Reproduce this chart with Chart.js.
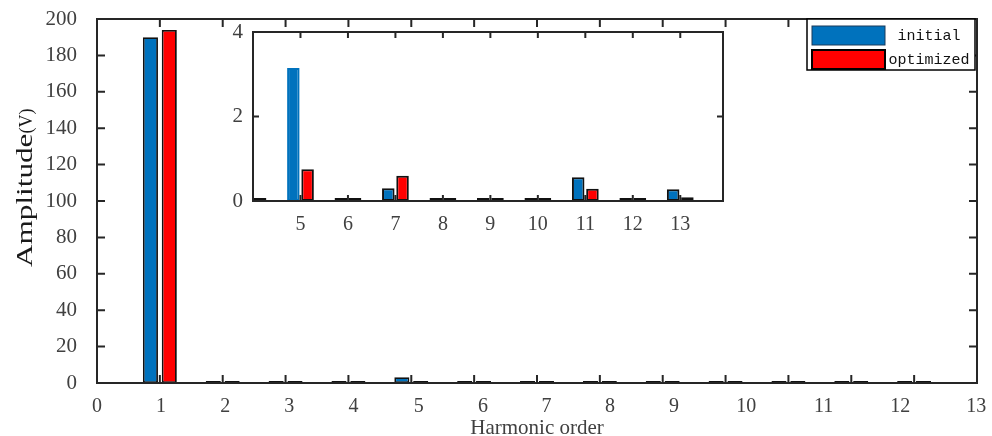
<!DOCTYPE html>
<html>
<head>
<meta charset="utf-8">
<script src="https://cdn.jsdelivr.net/npm/chart.js@4.4.0/dist/chart.umd.min.js"></script>
<style>
html, body { margin: 0; padding: 0; background: #fff; }
#wrap { position: relative; width: 992px; height: 436px; }
#main { position: absolute; left: 0; top: 0; }
#zoom { position: absolute; left: 200px; top: 15px; }
</style>
</head>
<body>
<div id="wrap">
    <canvas id="main" width="992" height="436"></canvas>
    <canvas id="zoom" width="540" height="230"></canvas>
</div>
<script>
// harmonic amplitudes (V)
const harmonics = [1, 2, 3, 4, 5, 6, 7, 8, 9, 10, 11, 12, 13]
const initial = [190, 0.01, 0.01, 0.01, 3.15, 0.03, 0.30, 0.03, 0.04, 0.04, 0.56, 0.07, 0.28]
const optimized = [194, 0.01, 0.01, 0.01, 0.75, 0.03, 0.60, 0.03, 0.04, 0.03, 0.29, 0.05, 0.09]
const seriesNames = ['initial', 'optimized']

const mainYTicks = [0, 20, 40, 60, 80, 100, 120, 140, 160, 180, 200]
const mainXLabels = ['0', '1', '2', '3', '4', '5', '6', '7', '8', '9', '10', '11', '12', '13']
const zoomXTicks = [5, 6, 7, 8, 9, 10, 11, 12, 13]
const zoomYTicks = [0, 2, 4]

// label spots along the 0..14 axis (the labels drift off the tick marks)
const mainXLabelAt = [0, 1.02, 2.04, 3.06, 4.08, 5.12, 6.14, 7.15, 8.16, 9.18, 10.33, 11.56, 12.78, 13.99]

const BLUE = '#0072BD'
const RED = '#FF0000'
const EDGE = '#111111'
const AXIS = '#262626'
const TXT = '#404040'
const serif = 'Liberation Serif'

const points = vals => harmonics.map((h, i) => ({ x: h, y: vals[i] }))

// fixed axis size, and no extra room for labels hanging past the ends
const fixSize = (w, h) => s => {
    if (w) s.width = w
    if (h) s.height = h
    s.paddingTop = s.paddingBottom = s.paddingLeft = s.paddingRight = 0
}

// box round the plot area with inward tick marks on all four sides
const frame = {
    id: 'frame',
    beforeDatasetsDraw(chart, args, opts) {
        const a = chart.chartArea
        chart.ctx.save()
        chart.ctx.fillStyle = '#fff'
        chart.ctx.fillRect(a.left, a.top, a.width, a.height)
        chart.ctx.restore()
    },
    afterDatasetsDraw(chart, args, opts) {
        const { ctx, chartArea: a } = chart
        const x = chart.scales.x, y = chart.scales.y
        ctx.save()
        ctx.strokeStyle = AXIS
        ctx.lineWidth = opts.width
        ctx.beginPath()
        opts.xTicks.forEach(v => {
            const p = x.getPixelForValue(v)
            ctx.moveTo(p, a.bottom); ctx.lineTo(p, a.bottom - opts.len)
            ctx.moveTo(p, a.top); ctx.lineTo(p, a.top + opts.len)
        })
        opts.yTicks.forEach(v => {
            const p = y.getPixelForValue(v)
            ctx.moveTo(a.left, p); ctx.lineTo(a.left + opts.len, p)
            ctx.moveTo(a.right, p); ctx.lineTo(a.right - opts.len, p)
        })
        ctx.stroke()
        ctx.strokeRect(a.left, a.top, a.width, a.height)
        ctx.restore()
    }
}

// boxed legend in the top right corner
const boxLegend = {
    id: 'boxLegend',
    afterDraw(chart) {
        const { ctx, chartArea: a } = chart
        const right = a.right - 2, left = right - 168, top = a.top, h = 51
        ctx.save()
        ctx.fillStyle = '#fff'
        ctx.fillRect(left, top, right - left, h)
        ctx.strokeStyle = '#000'
        ctx.lineWidth = 1.5
        ctx.strokeRect(left, top, right - left, h)
        chart.data.datasets.forEach((ds, i) => {
            const sy = top + 7 + i * 24
            ctx.fillStyle = ds.backgroundColor
            ctx.fillRect(left + 5, sy, 73, 19)
            ctx.strokeStyle = i == 0 ? '#1a3a5a' : '#000'
            ctx.lineWidth = i == 0 ? 1 : 2
            ctx.strokeRect(left + 5, sy, 73, 19)
            ctx.fillStyle = '#111'
            ctx.font = '15px "Liberation Mono"'
            ctx.textAlign = 'center'
            ctx.textBaseline = 'middle'
            ctx.fillText(ds.label, right - 46, sy + 10)
        })
        ctx.restore()
    }
}

// rotated y title, sitting a bit above the middle of the axis; unit in a smaller size
const yTitle = {
    id: 'yTitle',
    afterDraw(chart) {
        const ctx = chart.ctx
        ctx.save()
        ctx.translate(31.5, 267)
        ctx.rotate(-Math.PI / 2)
        ctx.scale(1.3, 1)
        ctx.fillStyle = '#1a1a1a'
        ctx.textAlign = 'left'
        ctx.textBaseline = 'alphabetic'
        ctx.font = '24px "' + serif + '"'
        ctx.fillText('Amplitude', 0, 0)
        const w = ctx.measureText('Amplitude').width
        ctx.scale(1 / 1.3, 1)
        ctx.font = '18px "' + serif + '"'
        ctx.fillText('(V)', w * 1.3, 0)
        ctx.restore()
    }
}

const barSets = (minLen, edgeW, edgeFor) => [
    {
        label: seriesNames[0], data: points(initial),
        backgroundColor: BLUE, borderColor: edgeFor, borderWidth: edgeW,
        borderSkipped: false, minBarLength: minLen
    },
    {
        label: seriesNames[1], data: points(optimized),
        backgroundColor: RED, borderColor: EDGE, borderWidth: edgeW,
        borderSkipped: false, minBarLength: minLen
    }
]

new Chart(document.getElementById('main'), {
    type: 'bar',
    data: { datasets: barSets(2, 1.8, EDGE) },
    plugins: [frame, boxLegend, yTitle],
    options: {
        responsive: false,
        animation: false,
        layout: { padding: { left: 0, right: 15, top: 19, bottom: 0 } },
        datasets: { bar: { categoryPercentage: 0.6, barPercentage: 0.8 } },
        plugins: {
            legend: { display: false },
            tooltip: { enabled: false },
            frame: { xTicks: harmonics, yTicks: mainYTicks, len: 8, width: 2 }
        },
        scales: {
            x: {
                type: 'linear', min: 0, max: 14, offset: false,
                grid: { display: false, drawTicks: false },
                border: { display: false },
                afterBuildTicks: s => { s.ticks = mainXLabelAt.map(v => ({ value: v })) },
                ticks: {
                    callback: (v, i) => mainXLabels[i],
                    autoSkip: false, maxRotation: 0, padding: 12,
                    color: TXT, font: { family: serif, size: 20 }
                },
                title: {
                    display: true, text: 'Harmonic order', color: TXT,
                    font: { family: serif, size: 21 }, padding: { top: 0, bottom: -5 }
                },
                afterFit: fixSize(0, 53)
            },
            y: {
                min: 0, max: 200,
                grid: { display: false, drawTicks: false },
                border: { display: false },
                afterBuildTicks: s => { s.ticks = mainYTicks.map(v => ({ value: v })) },
                ticks: { padding: 20, color: TXT, font: { family: serif, size: 21 } },
                afterFit: fixSize(97, 0)
            }
        }
    }
})

// zoomed view of harmonics 5..13
new Chart(document.getElementById('zoom'), {
    type: 'bar',
    data: { datasets: barSets(3, 2, c => (harmonics[c.dataIndex] === 5 ? BLUE : EDGE)) },
    plugins: [frame],
    options: {
        responsive: false,
        animation: false,
        layout: { padding: { left: 0, right: 17, top: 17, bottom: 0 } },
        datasets: { bar: { categoryPercentage: 0.6, barPercentage: 0.88 } },
        plugins: {
            legend: { display: false },
            tooltip: { enabled: false },
            frame: { xTicks: zoomXTicks, yTicks: zoomYTicks, len: 6, width: 2 }
        },
        scales: {
            x: {
                type: 'linear', min: 4, max: 13.9, offset: false,
                grid: { display: false, drawTicks: false },
                border: { display: false },
                afterBuildTicks: s => { s.ticks = zoomXTicks.map(v => ({ value: v })) },
                ticks: { autoSkip: false, maxRotation: 0, padding: 12, color: TXT, font: { family: serif, size: 20 } },
                afterFit: fixSize(0, 44)
            },
            y: {
                min: 0, max: 4,
                grid: { display: false, drawTicks: false },
                border: { display: false },
                afterBuildTicks: s => { s.ticks = zoomYTicks.map(v => ({ value: v })) },
                ticks: { padding: 10, color: TXT, font: { family: serif, size: 21 } },
                afterFit: fixSize(53, 0)
            }
        }
    }
})
</script>
</body>
</html>
